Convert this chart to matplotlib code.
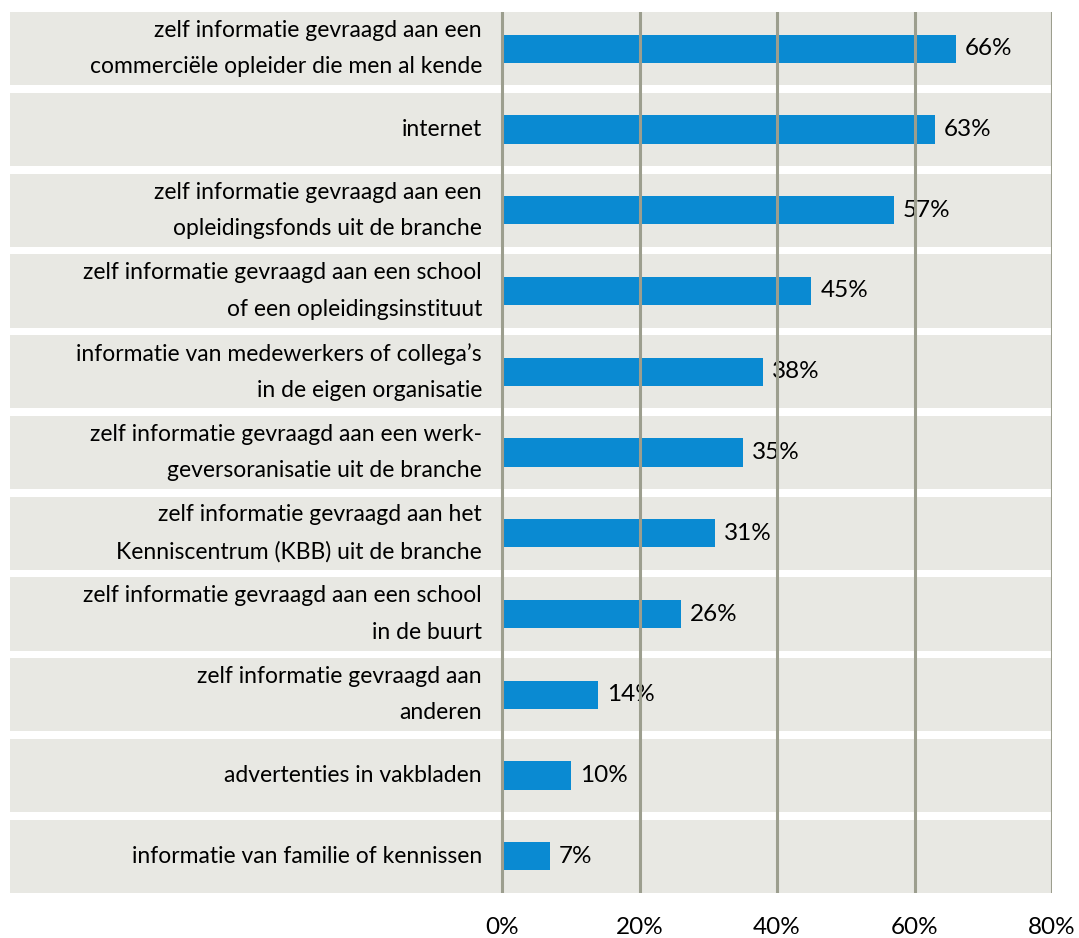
import matplotlib
matplotlib.use("Agg")
import matplotlib.pyplot as plt

# data, top row first
labels = [
    "zelf informatie gevraagd aan een\ncommerciële opleider die men al kende",
    "internet",
    "zelf informatie gevraagd aan een\nopleidingsfonds uit de branche",
    "zelf informatie gevraagd aan een school\nof een opleidingsinstituut",
    "informatie van medewerkers of collega’s\nin de eigen organisatie",
    "zelf informatie gevraagd aan een werk-\ngeversoranisatie uit de branche",
    "zelf informatie gevraagd aan het\nKenniscentrum (KBB) uit de branche",
    "zelf informatie gevraagd aan een school\nin de buurt",
    "zelf informatie gevraagd aan\nanderen",
    "advertenties in vakbladen",
    "informatie van familie of kennissen",
]
values = [66, 63, 57, 45, 38, 35, 31, 26, 14, 10, 7]
xticks = [0, 20, 40, 60, 80]

bar_color = "#0a8ad2"
band_color = "#e8e8e3"
grid_color = "#9c9e8e"

plt.rcParams["font.family"] = ["Lato", "DejaVu Sans"]
fs_cat = 16.5
fs_num = 17.5

W, H = 1079, 938
fig = plt.figure(figsize=(W / 100, H / 100), dpi=100)
ax = fig.add_axes([10 / W, (H - 893) / H, (1052 - 10) / W, (893 - 12) / H])

px_per_unit = (1052 - 502) / 80
xmin = -(502 - 10) / px_per_unit
ax.set_xlim(xmin, 80)
n = len(values)
ax.set_ylim(n - 1 + 0.455, -0.455)

for i in range(n):
    ax.axhspan(i - 0.455, i + 0.455, color=band_color, lw=0, zorder=0)

ax.barh(range(n), values, height=0.35, color=bar_color, zorder=2)

for x in xticks:
    ax.axvline(x, color=grid_color, lw=2.2, zorder=3)

label_x = -(502 - 482) / px_per_unit
for i, (lab, v) in enumerate(zip(labels, values)):
    ax.text(label_x, i, lab, ha="right", va="center", fontsize=fs_cat,
            linespacing=1.9, color="black", zorder=2.5)
    ax.text(v + 9 / px_per_unit, i, f"{v}%", ha="left", va="center",
            fontsize=fs_num, color="black", zorder=2.5)

ax.set_xticks(xticks)
ax.set_xticklabels([f"{x}%" for x in xticks], fontsize=fs_num)
ax.tick_params(axis="x", length=0, pad=17)
ax.set_yticks([])
for s in ax.spines.values():
    s.set_visible(False)
ax.patch.set_alpha(0)

fig.savefig("out.png", dpi=100)
